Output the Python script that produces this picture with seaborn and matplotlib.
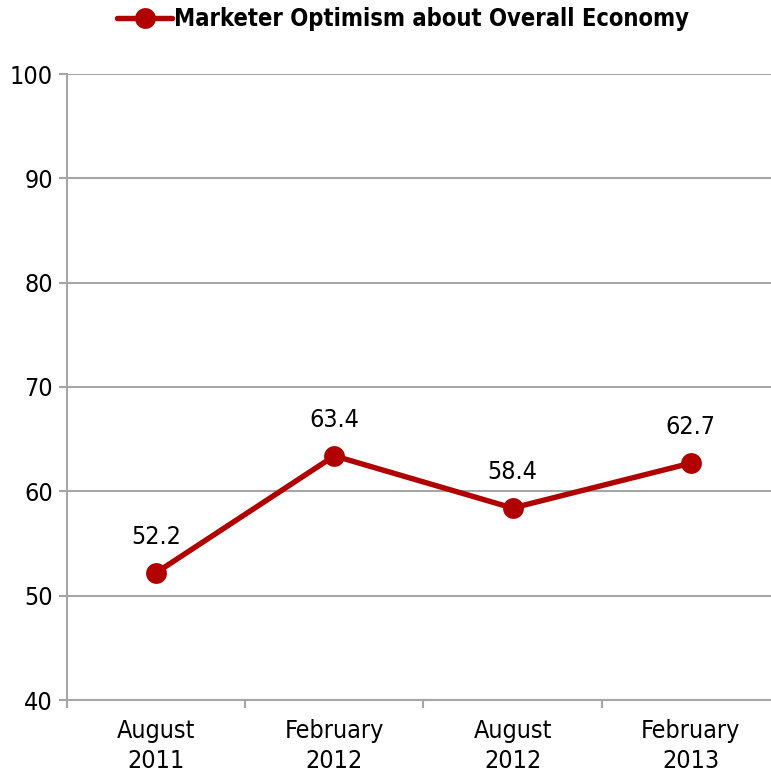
import matplotlib
matplotlib.use("Agg")
import matplotlib.pyplot as plt
import seaborn as sns
import pandas as pd
from matplotlib.ticker import FixedLocator, NullFormatter

periods = ["August\n2011", "February\n2012", "August\n2012", "February\n2013"]
optimism = [52.2, 63.4, 58.4, 62.7]
y_ticks = [40, 50, 60, 70, 80, 90, 100]
series_name = "Marketer Optimism about Overall Economy"

sns.set_theme(style="white")
plt.rcParams["font.family"] = ["DejaVu Sans"]
plt.rcParams["font.stretch"] = "condensed"
plt.rcParams["text.color"] = "black"
plt.rcParams["axes.labelcolor"] = "black"

red = "#b00000"
grid_gray = "#a6a6a6"
fs = 18

df = pd.DataFrame({"period": periods, "value": optimism})

fig = plt.figure(figsize=(7.71, 7.74), dpi=100)
ax = fig.add_axes([67 / 771, 74 / 774, 1 - 67 / 771, 626 / 774])

sns.lineplot(data=df, x="period", y="value", ax=ax, sort=False, color=red,
             linewidth=3.9, marker="o", markersize=15, markeredgewidth=0,
             label=series_name)

for i, v in enumerate(optimism):
    ax.annotate(f"{v}", (i, v), xytext=(0, 26), textcoords="offset points",
                ha="center", va="center", fontsize=fs, color="black")

ax.set_ylim(40, 100)
ax.set_yticks(y_ticks)
ax.set_xlim(-0.5, 3.45)
ax.set_xlabel("")
ax.set_ylabel("")

ax.yaxis.grid(True, color=grid_gray, linewidth=1.5)
ax.set_axisbelow(True)
for side in ["top", "right"]:
    ax.spines[side].set_visible(False)
for side in ["left", "bottom"]:
    ax.spines[side].set_color(grid_gray)
    ax.spines[side].set_linewidth(1.5)

ax.tick_params(axis="y", which="major", left=True, length=6, width=1.5,
               color=grid_gray, labelsize=fs, pad=4, labelcolor="black")
ax.tick_params(axis="x", which="major", bottom=False, labelsize=fs, pad=8,
               labelcolor="black")
for lbl in ax.get_xticklabels():
    lbl.set_linespacing(1.3)
ax.xaxis.set_minor_locator(FixedLocator([-0.5, 0.5, 1.5, 2.5, 3.5]))
ax.xaxis.set_minor_formatter(NullFormatter())
ax.tick_params(axis="x", which="minor", bottom=True, length=6, width=1.5,
               color=grid_gray)

ax.get_legend().remove()
handles, labels = ax.get_legend_handles_labels()
leg = fig.legend(handles, labels, loc="upper center", bbox_to_anchor=(0.523, 1.018),
                 frameon=False, handlelength=2.3, handletextpad=0.1,
                 prop={"weight": "bold", "size": 17, "stretch": "condensed"})
for t in leg.get_texts():
    t.set_color("black")

fig.savefig("out.png", dpi=100)
